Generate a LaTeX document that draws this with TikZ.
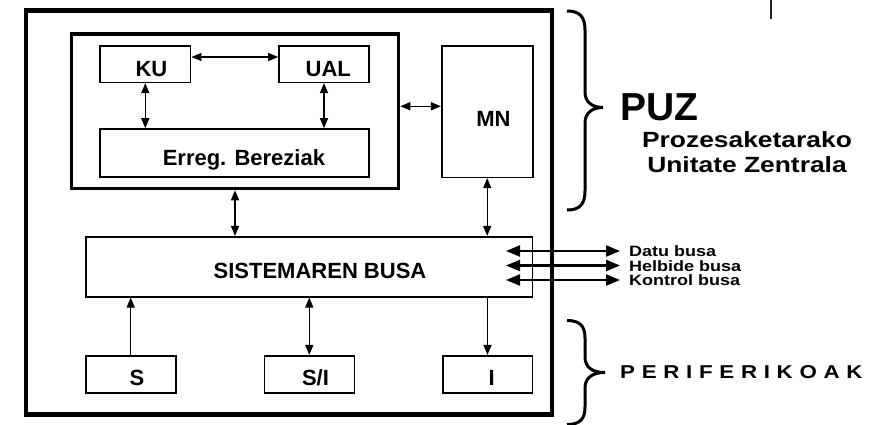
\documentclass[tikz,border=0pt]{standalone}
\usepackage{fontspec}
\setmainfont{Liberation Sans}
\newfontfamily\widefont[FakeStretch=1.2]{Liberation Sans}
\newfontfamily\spacedfont[FakeStretch=1.2,LetterSpace=36]{Liberation Sans}
\usetikzlibrary{arrows.meta,calc}
\begin{document}
\begin{tikzpicture}[x=1pt,y=-1pt,
  >={Triangle[length=10pt,width=8pt]},
  box/.style={draw,line width=1.6pt,inner sep=0pt},
  arr/.style={line width=1.3pt},
  busarr/.style={line width=2.3pt,{Triangle[length=14pt,width=11pt]}-{Triangle[length=14pt,width=11pt]}},
  lbl/.style={inner sep=0pt,anchor=base,font=\bfseries\fontsize{22}{26}\selectfont},
  buslbl/.style={inner sep=0pt,anchor=base west,font=\widefont\bfseries\fontsize{15}{18}\selectfont},
  brace/.style={line width=3pt}]
\clip (0,0) rectangle (881,424);
\fill[white] (0,0) rectangle (881,424);

% outer system box and CPU box
\node[draw,line width=4.5pt,inner sep=0pt,minimum width=526pt,minimum height=404pt] (sys) at (289,212.5) {};
\node[draw,line width=3.5pt,inner sep=0pt,minimum width=327pt,minimum height=154.5pt] (cpu) at (235,111.25) {};

% boxes
\node[box,minimum width=90.7pt,minimum height=36.6pt] (ku) at (145.3,64) {};
\node[box,minimum width=90pt,minimum height=36.6pt] (ual) at (324,64) {};
\node[box,minimum width=269pt,minimum height=48pt] (erreg) at (234.5,153) {};
\node[box,minimum width=91pt,minimum height=131.6pt] (mn) at (487.2,111.5) {};
\node[box,minimum width=446.6pt,minimum height=60pt] (bus) at (309,266.7) {};
\node[box,minimum width=90pt,minimum height=37pt] (s) at (130.7,374.2) {};
\node[box,minimum width=90pt,minimum height=37pt] (si) at (309.3,374.2) {};
\node[box,minimum width=89.6pt,minimum height=37pt] (i) at (487.5,374.2) {};

% box labels
\node[lbl] (ku-t) at ($(ku)+(6.2,12)$) {KU};
\node[lbl] (ual-t) at ($(ual)+(4.3,12)$) {UAL};
\node[lbl] (erreg-t) at ($(erreg)+(9.4,12)$) {Erreg. Bereziak};
\node[lbl] (mn-t) at ($(mn)+(6.3,15)$) {MN};
\node[lbl] (bus-t) at ($(bus)+(11,11.6)$) {SISTEMAREN BUSA};
\node[lbl] (s-t) at ($(s)+(6.3,10.8)$) {S};
\node[lbl] (si-t) at ($(si)+(6.2,10.8)$) {S/I};
\node[lbl] (i-t) at ($(i)+(4.2,10.8)$) {I};

% connectors
\draw[arr,<->] ([yshift=7pt]ku.east) -- ([yshift=7pt]ual.west);
\draw[arr,<->] (ku.south) -- (ku.south |- erreg.north);
\draw[arr,<->] (ual.south) -- (ual.south |- erreg.north);
\draw[arr,<->] ([yshift=5pt]cpu.east) -- ([yshift=5pt]cpu.east -| mn.west);
\draw[arr,<->] (cpu.south) -- (cpu.south |- bus.north);
\draw[arr,<->] (mn.south) -- (mn.south |- bus.north);
\draw[arr,->] (s.north) -- (s.north |- bus.south);
\draw[arr,<->] (si.north) -- (si.north |- bus.south);
\draw[arr,->] (i.north |- bus.south) -- (i.north);

% external buses
\coordinate (b1) at (506,251);
\coordinate (b2) at (506,265.5);
\coordinate (b3) at (506,280);
\coordinate (e1) at (620,251);
\coordinate (e2) at (620,265.5);
\coordinate (e3) at (620,280);
\draw[busarr] (b1) -- (e1);
\draw[busarr] (b2) -- (e2);
\draw[busarr] (b3) -- (e3);
\node[buslbl] (datu) at (629,256.5) {Datu busa};
\node[buslbl] (helb) at (629,271) {Helbide busa};
\node[buslbl] (kont) at (629,285.5) {Kontrol busa};

% braces
\draw[brace] (567,11) .. controls (580,11) and (585,17) .. (585,30) -- (585,92)
  .. controls (585,102) and (592,107.5) .. (603,107.5)
  .. controls (592,107.5) and (585,113) .. (585,123) -- (585,191)
  .. controls (585,204) and (580,210) .. (567,210);
\draw[brace] (567,320.5) .. controls (580,320.5) and (585,326) .. (585,338) -- (585,357)
  .. controls (585,367) and (592,372.5) .. (605,372.5)
  .. controls (592,372.5) and (585,378) .. (585,388) -- (585,407)
  .. controls (585,419) and (580,424.5) .. (567,424.5);

% right-hand texts
\node[inner sep=0pt,anchor=base west,font=\bfseries\fontsize{39}{44}\selectfont] (puz) at (620,120) {PUZ};
\node[inner sep=0pt,anchor=base,font=\widefont\bfseries\fontsize{22}{26}\selectfont] (proz1) at (747,147.3) {Prozesaketarako};
\node[inner sep=0pt,anchor=base,font=\widefont\bfseries\fontsize{22}{26}\selectfont] (proz2) at (747,172.3) {Unitate Zentrala};
\node[inner sep=0pt,anchor=base west,font=\spacedfont\bfseries\fontsize{18.6}{22}\selectfont] (perif) at (620,378.3) {PERIFERIKOAK};

% small mark at top
\draw[line width=1.3pt,black!85] (771,0) -- (771,19);
\end{tikzpicture}
\end{document}
